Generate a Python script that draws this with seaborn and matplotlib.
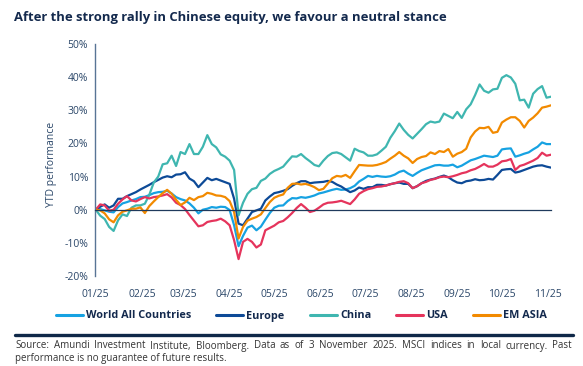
import matplotlib
matplotlib.use('Agg')
import matplotlib.pyplot as plt
from matplotlib.ticker import FuncFormatter
from matplotlib.lines import Line2D
import seaborn as sns
import pandas as pd

# Sample dates (every 3 days, 1 Jan -> 3 Nov 2025)
dates = pd.date_range('2025-01-01', periods=103, freq='3D')

# YTD performance, %
world = [0, 0.2, -0.2, -0.6, -0.8, 0.8, 1.9, 2.3, 2.8, 3.2,
         3.8, 3.9, 4.4, 5.0, 5.3, 5.4, 5.7, 4.9, 3.8, 3.2,
         2.8, 1.9, 0.6, -1.1, 0.0, 0.3, 0.8, 0.6, 0.9, 0.8,
         -0.1, -4.7, -11.0, -7.9, -5.4, -4.8, -6.2, -5.1, -3.0, -1.0,
         0.6, 1.2, 1.3, 2.6, 3.5, 3.4, 3.8, 3.6, 3.9, 4.3,
         4.9, 5.2, 5.6, 6.0, 6.3, 6.0, 6.1, 6.5, 7.2, 8.5,
         9.3, 10.2, 9.9, 10.2, 10.0, 9.9, 10.1, 10.6, 11.4, 11.8,
         10.9, 10.2, 11.1, 11.9, 12.4, 12.9, 13.4, 13.5, 13.3, 13.3,
         13.6, 12.8, 13.3, 14.1, 14.9, 15.3, 15.8, 16.3, 16.1, 15.9,
         16.3, 18.2, 18.4, 18.5, 16.0, 16.4, 16.9, 17.3, 18.2, 19.0,
         20.3, 19.8, 19.8]
europe = [0, 0.9, 1.6, 0.6, 1.3, 3.3, 3.3, 4.1, 4.7, 5.3,
          6.1, 6.8, 7.5, 8.3, 9.0, 9.7, 10.1, 9.8, 10.6, 10.7,
          11.3, 9.4, 8.6, 6.8, 8.2, 9.6, 8.9, 9.3, 8.8, 8.3,
          7.8, 3.3, -4.2, -4.7, -2.7, -0.7, -0.2, 0.3, 2.8, 4.0,
          5.0, 5.3, 5.7, 6.2, 7.2, 8.0, 8.6, 8.6, 8.0, 8.2,
          8.3, 8.4, 8.7, 8.4, 7.6, 7.0, 6.1, 5.3, 5.8, 6.7,
          6.3, 6.8, 6.8, 7.5, 7.5, 7.3, 7.7, 8.0, 8.2, 7.8,
          7.8, 6.5, 7.1, 8.0, 8.7, 9.1, 9.4, 9.9, 10.3, 9.8,
          8.9, 8.2, 8.0, 8.6, 8.8, 9.2, 8.9, 9.0, 9.3, 9.1,
          10.5, 12.0, 12.2, 12.3, 11.2, 11.5, 12.0, 12.5, 13.0, 13.3,
          13.4, 13.0, 12.7]
china = [0, -1.8, -2.8, -5.2, -6.4, -3.2, -1.4, -1.9, 0.6, 1.3,
         1.3, 1.8, 4.5, 8.2, 10.0, 13.7, 14.0, 16.3, 13.2, 17.4,
         16.8, 19.8, 16.8, 16.8, 19.0, 22.5, 19.8, 18.8, 16.7, 16.0,
         14.8, 12.0, -1.7, 2.1, 4.8, 6.2, 6.6, 8.7, 9.4, 10.8,
         11.7, 12.3, 13.0, 14.6, 16.1, 16.0, 16.8, 15.6, 14.6, 13.5,
         13.1, 14.8, 16.2, 17.1, 17.3, 16.8, 15.8, 14.8, 18.4, 17.7,
         17.3, 16.3, 16.3, 16.7, 17.8, 19.0, 21.7, 23.7, 26.0, 24.1,
         22.6, 21.5, 22.9, 24.3, 25.8, 26.6, 26.3, 26.6, 29.0, 28.3,
         27.6, 29.5, 27.7, 30.3, 31.8, 34.6, 37.8, 35.9, 35.3, 36.3,
         36.5, 39.8, 40.6, 39.9, 38.0, 33.0, 33.2, 30.8, 35.0, 36.4,
         37.3, 33.8, 34.1]
usa = [0, 1.6, 1.3, -0.3, 0.0, 1.8, 3.1, 4.1, 2.8, 2.5,
       3.2, 3.8, 3.4, 3.8, 4.0, 4.3, 4.7, 3.7, 2.1, 1.4,
       0.2, -1.6, -3.3, -5.0, -4.7, -3.7, -3.4, -3.2, -2.7, -3.5,
       -4.7, -9.2, -14.9, -9.7, -8.8, -9.7, -11.4, -10.5, -6.2, -5.5,
       -4.8, -3.8, -3.4, -2.3, -1.0, 0.5, 1.7, 0.6, -0.7, -0.3,
       0.6, 1.6, 2.1, 2.2, 2.4, 2.7, 2.2, 1.7, 3.1, 4.8,
       5.6, 6.2, 6.5, 6.9, 7.0, 7.3, 7.7, 8.0, 8.4, 8.6,
       8.0, 6.5, 7.1, 8.0, 8.4, 9.0, 9.3, 9.8, 10.0, 9.8,
       10.1, 10.5, 11.0, 11.3, 11.9, 12.3, 13.0, 13.8, 13.0, 13.0,
       13.6, 14.6, 14.8, 15.3, 12.0, 13.2, 13.6, 14.2, 14.8, 15.6,
       17.2, 16.3, 16.6]
em_asia = [0, -0.2, -1.1, -2.9, -3.8, -1.7, -0.6, -0.2, 0.3, 0.3,
           0.7, -1.0, 1.1, 2.5, 3.8, 5.0, 6.0, 4.8, 3.0, 1.4,
           2.2, 3.6, 2.9, 3.8, 4.1, 5.1, 4.8, 4.3, 4.2, 3.8,
           2.6, -0.7, -8.7, -5.2, -3.3, -2.7, -2.2, -1.4, 0.5, 2.3,
           3.6, 4.2, 4.6, 6.6, 7.8, 7.9, 7.6, 7.8, 7.4, 6.8,
           5.9, 6.3, 7.9, 9.5, 10.2, 10.0, 10.5, 9.6, 11.6, 13.5,
           13.4, 13.3, 13.3, 13.5, 13.9, 14.4, 15.4, 16.3, 17.4, 16.3,
           15.5, 14.1, 15.3, 15.9, 16.2, 17.3, 16.8, 17.7, 17.4, 18.3,
           16.0, 16.9, 17.4, 18.4, 21.8, 23.6, 24.7, 24.6, 25.0, 23.2,
           23.5, 26.3, 27.2, 27.9, 27.9, 26.8, 24.8, 26.8, 27.8, 29.1,
           30.8, 31.1, 31.5]

series_names = ['World All Countries', 'Europe', 'China', 'USA', 'EM ASIA']
colors = ['#16a2e2', '#0d4a97', '#3fb6b0', '#e5345c', '#f28a00']
month_ticks = pd.date_range('2025-01-01', '2025-11-01', freq='MS')

df = pd.DataFrame({'date': dates, 'World All Countries': world, 'Europe': europe,
                   'China': china, 'USA': usa, 'EM ASIA': em_asia})
long_df = df.melt(id_vars='date', var_name='Index', value_name='YTD')

sns.set_style('white')
plt.rcParams['font.family'] = ['Open Sans', 'DejaVu Sans']

navy = '#13294d'
axis_txt = '#2b4769'

fig = plt.figure(figsize=(5.83, 3.66), dpi=100)
ax = fig.add_axes([95 / 583, 90 / 366, 456 / 583, 232 / 366])

sns.lineplot(data=long_df, x='date', y='YTD', hue='Index', hue_order=series_names,
             palette=colors, linewidth=1.6, legend=False, ax=ax)

ax.set_xlim(pd.Timestamp('2024-12-31 12:00'), pd.Timestamp('2025-11-03'))
ax.set_ylim(-20, 50)
ax.set_yticks(range(-20, 51, 10))
ax.yaxis.set_major_formatter(FuncFormatter(lambda v, _: f'{v:.0f}%'))
ax.set_xticks(month_ticks)
ax.set_xticklabels(month_ticks.strftime('%m/%y'))

for s in ['top', 'right']:
    ax.spines[s].set_visible(False)
ax.spines['bottom'].set_position(('data', 0))
ax.spines['bottom'].set_color('#1f3a5c')
ax.spines['bottom'].set_linewidth(0.9)
ax.spines['left'].set_color('#587495')
ax.spines['left'].set_linewidth(1.0)

ax.tick_params(axis='x', direction='out', length=3, width=0.8, color='#1f3a5c',
               pad=54, labelsize=7.5, labelcolor=axis_txt)
ax.tick_params(axis='y', direction='out', length=3, width=0.8, color='#587495',
               pad=2, labelsize=7.5, labelcolor=axis_txt)
ax.set_xlabel('')
ax.set_ylabel('YTD performance', fontsize=7.5, color=axis_txt)
ax.yaxis.set_label_coords(-0.083, 0.48)

fig.text(14 / 583, 1 - 17 / 366,
         'After the strong rally in Chinese equity, we favour a neutral stance',
         fontsize=9.4, weight='bold', color=navy, ha='left', va='center')

handles = [Line2D([0], [0], color=c, lw=2.2) for c in colors]
leg = fig.legend(handles, series_names, loc='center', bbox_to_anchor=(0.517, 1 - 316 / 366),
                 ncol=5, frameon=False, handlelength=2.5, handletextpad=0.3,
                 columnspacing=2.3, prop={'weight': 'bold', 'size': 7.8})
for t in leg.get_texts():
    t.set_color(navy)

fig.add_artist(Line2D([15 / 583, 573 / 583], [1 - 335 / 366] * 2,
                      transform=fig.transFigure, color='#0f2848', lw=2.4))

# source note: first line justified to the rule width, second line plain
note1 = ('Source: Amundi Investment Institute, Bloomberg. Data as of 3 November 2025. '
         'MSCI indices in local currency. Past')
note2 = 'performance is no guarantee of future results.'
note_kw = dict(fontsize=7.0, color='#333333', ha='left', va='center')
renderer = fig.canvas.get_renderer()
words = [fig.text(0, 1 - 346 / 366, w, **note_kw) for w in note1.split()]
widths = [w.get_window_extent(renderer).width for w in words]
gap = (572 - 15 - sum(widths)) / (len(words) - 1)
xpos = 15.0
for w, wd in zip(words, widths):
    w.set_x(xpos / 583)
    xpos += wd + gap
fig.text(15 / 583, 1 - 358 / 366, note2, **note_kw)

fig.savefig('out.png', dpi=100, facecolor='white')
